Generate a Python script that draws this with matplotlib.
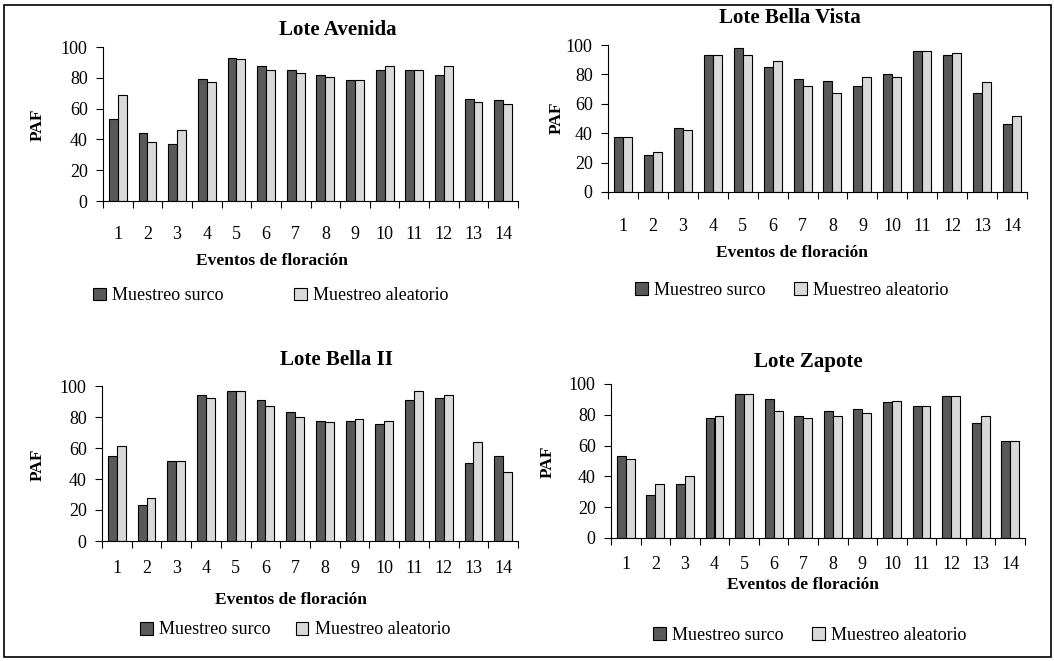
import matplotlib

matplotlib.use("Agg")
import matplotlib.pyplot as plt
import numpy as np
from matplotlib.patches import Rectangle

plt.rcParams["font.family"] = ["Liberation Serif", "DejaVu Serif"]

eventos = list(range(1, 15))

# PAF por lote: muestreo surco / muestreo aleatorio
avenida_surco = [53, 44, 37, 79.5, 93, 87.5, 85, 82, 78.5, 85, 85, 82, 66, 65.5]
avenida_aleat = [69, 38, 46, 77, 92, 85, 83, 80.5, 78.5, 87.5, 85, 87.5, 64.5, 63]

vista_surco = [37.5, 25, 43.5, 93.5, 98, 85, 77, 75.5, 72, 80.5, 96, 93.5, 67.5, 46]
vista_aleat = [37.5, 27, 42.5, 93.5, 93.5, 89, 72, 67.5, 78, 78, 96, 94.5, 74.5, 52]

bella2_surco = [55, 23, 51.5, 94.5, 97, 91, 83, 77.5, 77.5, 75.5, 91, 92.5, 50.5, 55]
bella2_aleat = [61.5, 27.5, 51.5, 92.5, 97, 87, 80, 76.5, 78.5, 77.5, 97, 94.5, 64, 44.5]

zapote_surco = [53, 28, 35, 78, 93.5, 90, 79, 82.5, 83.5, 88, 86, 92.5, 74.5, 63]
zapote_aleat = [51, 35, 40.5, 79, 93.5, 82.5, 78, 79, 81, 89, 86, 92.5, 79, 63]

W, H = 1054, 661
DARK = "#595959"
LIGHT = "#d9d9d9"

fig = plt.figure(figsize=(W / 100, H / 100), dpi=100)
fig.patches.append(Rectangle((4 / W, 1 - 657 / H), 1047 / W, 652 / H,
                             transform=fig.transFigure, fill=False,
                             edgecolor="black", linewidth=1.2))


def fx(x):
    return x / W


def fy(y):
    return 1 - y / H


def panel(box, surco, aleat, title, title_xy, ylab_xy, tick_pad, xlab_xy,
          leg_xy, colsp):
    left, right, top, bottom = box
    ax = fig.add_axes([fx(left), fy(bottom), (right - left) / W,
                       (bottom - top) / H])
    x = np.array(eventos)
    ax.bar(x - 0.15, surco, width=0.3, color=DARK, edgecolor="black",
           linewidth=0.8, label="Muestreo surco")
    ax.bar(x + 0.15, aleat, width=0.3, color=LIGHT, edgecolor="black",
           linewidth=0.8, label="Muestreo aleatorio")
    ax.set_xlim(0.5, 14.5)
    ax.set_ylim(0, 100)
    ax.set_yticks(range(0, 101, 20))
    ax.set_xticks(eventos)
    ax.set_xticks(np.arange(0.5, 15, 1), minor=True)
    ax.tick_params(axis="x", which="major", length=0, pad=tick_pad,
                   labelsize=13)
    ax.tick_params(axis="x", which="minor", length=5, direction="out",
                   width=0.8)
    ax.tick_params(axis="y", length=5, direction="out", width=0.8,
                   labelsize=13, pad=6)
    for s in ("top", "right"):
        ax.spines[s].set_visible(False)
    for s in ("left", "bottom"):
        ax.spines[s].set_linewidth(0.8)
    ax.patch.set_alpha(0)

    fig.text(fx(title_xy[0]), fy(title_xy[1]), title, fontsize=15,
             fontweight="bold", ha="center", va="center")
    fig.text(fx(ylab_xy[0]), fy(ylab_xy[1]), "PAF", fontsize=12.5,
             fontweight="bold", rotation=90, ha="center", va="center")
    fig.text(fx(xlab_xy[0]), fy(xlab_xy[1]), "Eventos de floración",
             fontsize=12.5, fontweight="bold", ha="center", va="center")
    ax.legend(loc="center left", bbox_to_anchor=(fx(leg_xy[0]), fy(leg_xy[1])),
              bbox_transform=fig.transFigure, ncol=2, frameon=False,
              fontsize=13, handlelength=0.7, handleheight=0.7,
              handletextpad=0.35, columnspacing=colsp, borderpad=0,
              borderaxespad=0)
    return ax


panel((103, 518, 47, 201), avenida_surco, avenida_aleat, "Lote Avenida",
      (338, 30), (38, 125), 18, (272, 261), (93, 296), 3.9)
panel((608, 1027, 45, 192), vista_surco, vista_aleat, "Lote Bella Vista",
      (790, 18), (557, 118), 19, (792, 253), (635, 290), 1.6)
panel((102, 518, 386, 541), bella2_surco, bella2_aleat, "Lote Bella II",
      (336, 360), (38, 465), 13.5, (291, 600), (140, 630), 1.4)
panel((611, 1025, 384, 538), zapote_surco, zapote_aleat, "Lote Zapote",
      (808, 362), (548, 462), 13, (803, 585), (653, 635), 1.6)

fig.savefig("out.png", dpi=100)
plt.close(fig)
